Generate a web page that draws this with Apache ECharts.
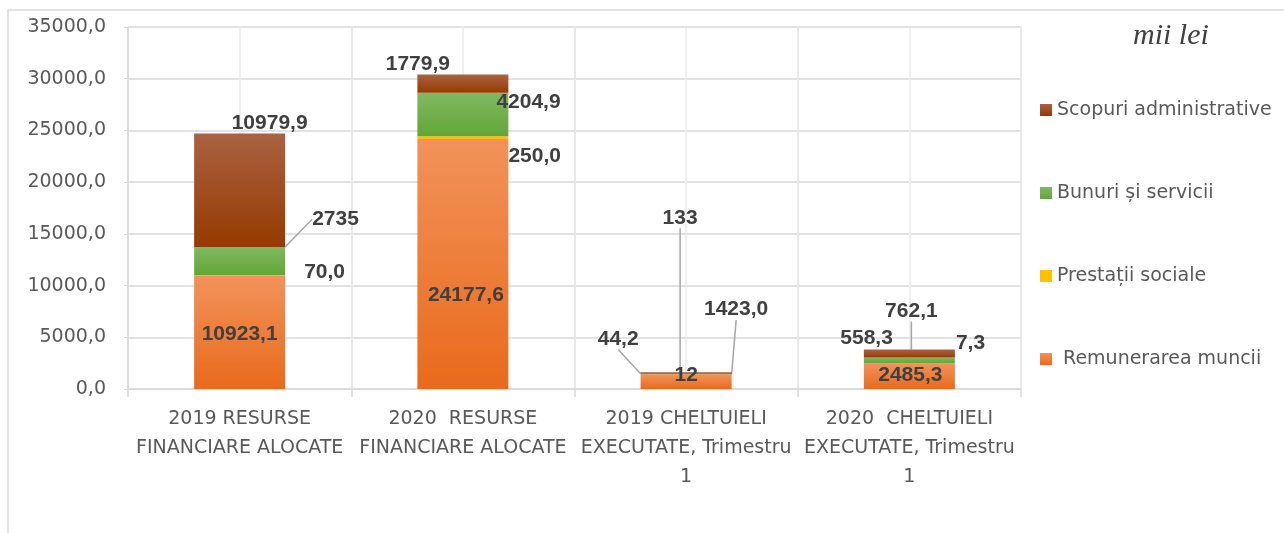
<!DOCTYPE html>
<html>
<head>
<meta charset="utf-8">
<script src="https://cdn.jsdelivr.net/npm/echarts@6/dist/echarts.min.js"></script>
<style>
  html, body {margin: 0;padding: 0;background: #fff;}
  #main {width: 1284px;height: 533px;}
</style>
</head>
<body>
<div id="main"></div>
<script>
// categorii (axa X)
const categories = [
    '2019 RESURSE\nFINANCIARE ALOCATE',
    '2020  RESURSE\nFINANCIARE ALOCATE',
    '2019 CHELTUIELI\nEXECUTATE, Trimestru\n1',
    '2020  CHELTUIELI\nEXECUTATE, Trimestru\n1'
];
// valori, mii lei
const remunerarea = [10923.1, 24177.6, 1423.0, 2485.3];
const prestatii = [70.0, 250.0, 12, 7.3];
const bunuri = [2735, 4204.9, 44.2, 558.3];
const scopuri = [10979.9, 1779.9, 133, 762.1];
// zecimale afisate in etichete
const remunerareaDec = [1, 1, 1, 1];
const prestatiiDec = [1, 1, 0, 1];
const bunuriDec = [0, 1, 1, 1];
const scopuriDec = [1, 1, 0, 1];
// axa Y
const yMin = 0, yMax = 35000, yStep = 5000;

// pozitia etichetelor: [position, dx, dy, linie de legatura]
const remunerareaLbl = [['inside', 0, 2], ['inside', 3, 31], ['inside', 50, -72, true], ['inside', 1, -1]];
const prestatiiLbl = [['right', 14, -3], ['right', -5, 19], ['inside', 0, 1], ['right', -4, -20]];
const bunuriLbl = [['right', 22, -42, true], ['right', -17, -12], ['left', 3, -35, true], ['left', 34, -22]];
const scopuriLbl = [['top', 30, 5], ['top', -45, 5], ['top', -6, -139, true], ['top', 2, -23, true]];

const fmt = (v, d) => v.toFixed(d).replace('.', ',');

function grad(top, bottom) {
    return new echarts.graphic.LinearGradient(0, 0, 0, 1, [
        {offset: 0, color: top},
        {offset: 1, color: bottom}
    ]);
}

function makeSeries(name, values, decs, lbl, color) {
    return {
        name: name,
        type: 'bar',
        stack: 'total',
        barWidth: 91,
        itemStyle: {color: color},
        label: {
            show: true,
            color: '#404040',
            fontFamily: 'Liberation Sans',
            fontWeight: 'bold',
            fontSize: 21
        },
        labelLine: {show: false, lineStyle: {color: '#a6a6a6', width: 1.5}},
        labelLayout: function (p) {
            const l = lbl[p.dataIndex];
            return {dx: l[1], dy: l[2]};
        },
        data: values.map((v, i) => ({
            value: v,
            label: {position: lbl[i][0], formatter: fmt(v, decs[i])},
            labelLine: {show: !!lbl[i][3]}
        }))
    };
}

let myChart = echarts.init(document.getElementById('main'));
myChart.setOption({
    animation: false,
    backgroundColor: '#fff',
    grid: {left: 128, right: 263, top: 27, bottom: 144},
    graphic: [
        {
            type: 'rect',
            shape: {x: 8, y: 10, width: 1400, height: 700},
            style: {fill: 'none', stroke: '#d9d9d9', lineWidth: 1.5},
            silent: true
        },
        {
            type: 'text',
            left: 1133,
            top: 21,
            style: {
                text: 'mii lei',
                font: 'italic 30px "Liberation Serif"',
                fill: '#404040'
            }
        }
    ],
    legend: {
        orient: 'vertical',
        left: 1040,
        top: 99,
        padding: 0,
        itemGap: 61,
        itemWidth: 12,
        itemHeight: 12,
        icon: 'rect',
        data: ['Scopuri administrative', 'Bunuri și servicii', 'Prestații sociale', 'Remunerarea muncii'],
        formatter: n => n === 'Remunerarea muncii' ? ' ' + n : n,
        textStyle: {fontFamily: 'DejaVu Sans', fontSize: 19, color: '#595959', lineHeight: 22}
    },
    xAxis: [
        {
            type: 'category',
            data: categories,
            axisLine: {lineStyle: {color: '#d9d9d9', width: 1.5}},
            axisTick: {show: true, length: 8, lineStyle: {color: '#d9d9d9', width: 1.5}},
            splitLine: {show: true, lineStyle: {color: '#d9d9d9', width: 1.5}},
            axisLabel: {
                margin: 16,
                interval: 0,
                color: '#595959',
                fontFamily: 'DejaVu Sans',
                fontSize: 19,
                lineHeight: 29
            }
        },
        {
            // linii verticale intermediare
            type: 'category',
            data: ['', '', '', '', '', '', '', ''],
            axisLine: {show: false},
            axisTick: {show: false},
            axisLabel: {show: false},
            splitLine: {show: true, lineStyle: {color: '#ebebeb', width: 1.5}}
        }
    ],
    yAxis: {
        type: 'value',
        min: yMin,
        max: yMax,
        interval: yStep,
        axisLine: {show: true, lineStyle: {color: '#d9d9d9', width: 1.5}},
        axisTick: {show: true, length: 4, lineStyle: {color: '#d9d9d9'}},
        splitLine: {lineStyle: {color: '#d9d9d9', width: 1.5}},
        axisLabel: {
            margin: 22,
            color: '#595959',
            fontFamily: 'DejaVu Sans',
            fontSize: 19,
            formatter: v => fmt(v, 1)
        }
    },
    series: [
        makeSeries('Remunerarea muncii', remunerarea, remunerareaDec, remunerareaLbl, grad('#f2925a', '#e96a1b')),
        makeSeries('Prestații sociale', prestatii, prestatiiDec, prestatiiLbl, '#ffc000'),
        makeSeries('Bunuri și servicii', bunuri, bunuriDec, bunuriLbl, grad('#80b960', '#62a637')),
        makeSeries('Scopuri administrative', scopuri, scopuriDec, scopuriLbl, grad('#aa6242', '#963a00'))
    ]
});
</script>
</body>
</html>
